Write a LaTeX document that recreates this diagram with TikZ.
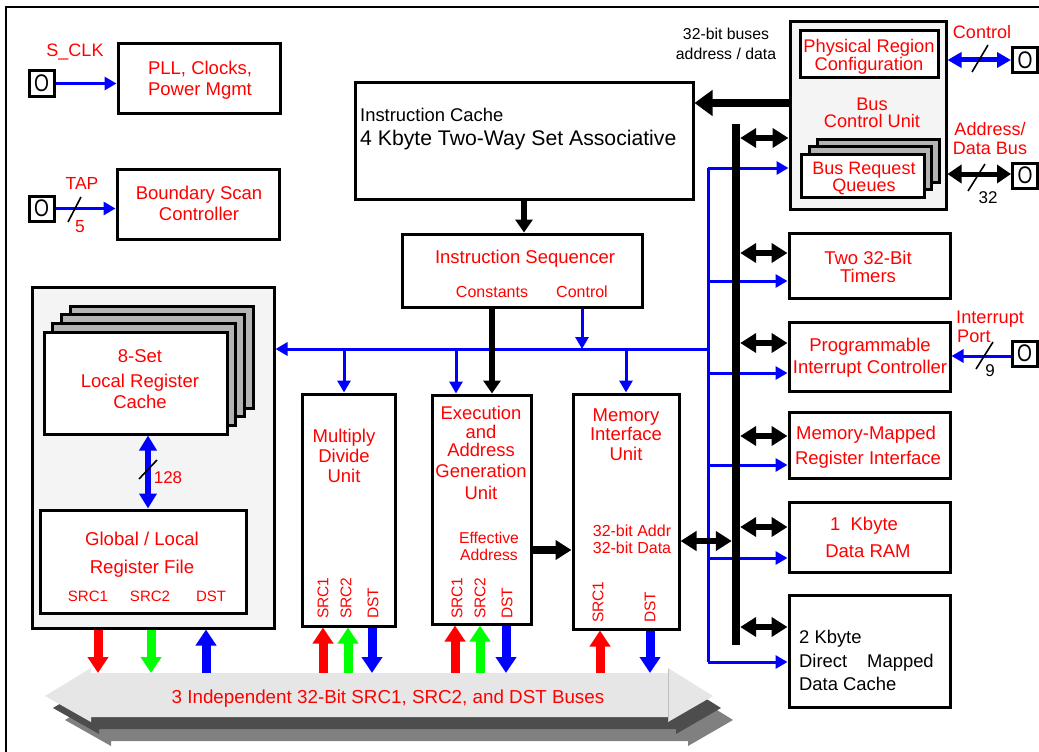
\documentclass[tikz,border=0pt]{standalone}
\usepackage{fontspec}
\usepackage{graphicx}
\setmainfont{Liberation Sans}
\usetikzlibrary{arrows.meta}
\definecolor{panel}{HTML}{F4F4F4}
\definecolor{stack}{HTML}{B3B3B3}
\definecolor{busl}{HTML}{E6E6E6}
\definecolor{busd}{HTML}{4D4D4D}
\definecolor{busm}{HTML}{808080}
\newcommand\fsz[1]{\fontsize{#1}{#1}\selectfont}
\newcommand\bx[6]{\node[#6, minimum width={(#4-#2)*1pt}, minimum height={(#5-#3)*1pt}] (#1) at ({(#2+#4)/2},{(#3+#5)/2}) {};}
\newcommand\tx[6]{\node[anchor=base,inner sep=0pt,text=#5,font=\fsz{#4}] (#1) at (#2,{#3+0.358*#4}) {#6};}
\newcommand\txl[6]{\node[anchor=base west,inner sep=0pt,text=#5,font=\fsz{#4}] (#1) at (#2,{#3+0.358*#4}) {#6};}
\newcommand\txr[6]{\node[rotate=90,anchor=west,inner sep=0pt,text=#5,font=\fsz{#4}] (#1) at (#2,#3) {#6};}
\newcommand\pin[3]{\node[draw,line width=3pt,fill=white,minimum width=25pt,minimum height=25pt,inner sep=0pt,font=\fsz{24}] (#1) at (#2,#3) {\scalebox{0.8}[1]{O}};}
\tikzset{
 box/.style={draw,line width=3pt,fill=white,inner sep=0pt},
 pbox/.style={box,fill=panel},
 sbox/.style={box,fill=stack},
 bln/.style={blue,line width=3pt},
 barr/.style={blue,line width=3pt,-{Triangle[length=12pt,width=13pt]}},
 bdbl/.style={blue,line width=5pt,{Triangle[length=14pt,width=15pt]}-{Triangle[length=14pt,width=15pt]}},
 bdblv/.style={blue,line width=6pt,{Triangle[length=15pt,width=17pt]}-{Triangle[length=15pt,width=17pt]}},
 kdbl/.style={black,line width=6pt,{Triangle[length=16pt,width=19pt]}-{Triangle[length=16pt,width=19pt]}},
 kdbls/.style={black,line width=5pt,{Triangle[length=14pt,width=18pt]}-{Triangle[length=14pt,width=18pt]}},
 karr/.style={black,line width=6.5pt,-{Triangle[length=13pt,width=17pt]}},
 karrw/.style={black,line width=8pt,-{Triangle[length=16pt,width=19pt]}},
 kbig/.style={black,line width=8pt,-{Triangle[length=18pt,width=25pt]}},
 fat/.style={line width=9pt,-{Triangle[length=16pt,width=20pt]}},
 slash/.style={black,line width=1.6pt},
}
\begin{document}
\begin{tikzpicture}[x=1pt,y=-1pt]
\useasboundingbox (0,0) rectangle (1039,752);
\fill[white] (0,0) rectangle (1039,752);
\draw[line width=2.5pt] (6,752) -- (6,7) -- (1039,7);

% bus arrow with shadows
\begin{scope}[shift={(20,24)}]
\fill[busm] (45,696) -- (91,668) -- (91,673) -- (668,673) -- (668,668) -- (713,696) -- (668,722) -- (668,717) -- (91,717) -- (91,722) -- cycle;
\end{scope}
\begin{scope}[shift={(8,12)}]
\fill[busd] (45,696) -- (91,668) -- (91,673) -- (668,673) -- (668,668) -- (713,696) -- (668,722) -- (668,717) -- (91,717) -- (91,722) -- cycle;
\end{scope}
\fill[busl] (45,696) -- (91,668) -- (91,673) -- (668,673) -- (668,668) -- (713,696) -- (668,722) -- (668,717) -- (91,717) -- (91,722) -- cycle;
\draw[black!25,line width=0.8pt] (668,669) -- (668,721);
\tx{tbus}{388}{697}{18.8}{red}{3 Independent 32-Bit SRC1, SRC2, and DST Buses}
\coordinate (bt) at (388,673);

% pins
\pin{pclk}{41.5}{83.5}
\pin{ptap}{41.5}{208.5}
\pin{pctl}{1025}{60.5}
\pin{pad}{1025}{175.5}
\pin{pirq}{1024.5}{353.5}

% boxes
\bx{pll}{118}{44}{280}{113}{box}
\bx{bsc}{117}{169}{279}{239}{box}
\bx{ic}{355}{83}{693}{199}{box}
\bx{is}{402}{234}{642}{307}{box}
\bx{reg}{32}{287}{274}{628}{pbox}
\bx{lrc3}{70}{306}{253}{408}{sbox}
\bx{lrc2}{61.3}{314.7}{244.3}{416.7}{sbox}
\bx{lrc1}{52.7}{323.3}{235.7}{425.3}{sbox}
\bx{lrc}{44}{332}{227}{434}{box}
\bx{glrf}{40}{510}{246}{613}{box}
\bx{mdu}{302}{394}{395}{626}{box}
\bx{eagu}{432}{395}{531}{624}{box}
\bx{miu}{573}{394}{679}{629}{box}
\bx{bcu}{790}{22}{946}{209}{pbox}
\bx{prc}{800}{31}{938}{78}{box}
\bx{brq3}{817}{139}{939}{182}{sbox}
\bx{brq2}{809}{146.5}{931}{189.5}{sbox}
\bx{brq}{801}{154}{924}{197}{box}
\bx{tim}{789}{233}{950}{298}{box}
\bx{pic}{789}{322}{950}{391}{box}
\bx{mmr}{789}{412}{950}{478}{box}
\bx{ram}{789}{502}{950}{572}{box}
\bx{dc}{789}{595}{950}{707}{box}

% blue control network
\coordinate (vtop) at (708,168);
\coordinate (vbot) at (708,662);
\coordinate (hj) at (708,349);
\coordinate (btim) at (708,281);
\coordinate (bpic) at (708,373);
\coordinate (bmmr) at (708,465);
\coordinate (bram) at (708,558);
\draw[bln] (vtop) -- (vbot);
\draw[barr] (vtop) -- (vtop -| bcu.west);
\draw[barr] (btim) -- (btim -| tim.west);
\draw[barr] (bpic) -- (bpic -| pic.west);
\draw[barr] (bmmr) -- (bmmr -| mmr.west);
\draw[barr] (bram) -- (bram -| ram.west);
\draw[barr] (vbot) -- (vbot -| dc.west);
\draw[barr] (hj) -- (hj -| reg.east);
\coordinate (hmdu) at (344,349);
\coordinate (heag) at (456,349);
\coordinate (hmiu) at (626,349);
\coordinate (isctl) at (582,320);
\draw[barr] (hmdu) -- (hmdu |- mdu.north);
\draw[barr] (heag) -- (heag |- eagu.north);
\draw[barr] (hmiu) -- (hmiu |- miu.north);
\draw[barr] (isctl |- is.south) -- (isctl |- hj);

% black internal bus
\node[fill=black, minimum width=8pt, minimum height=521pt, inner sep=0pt] (bus) at (736,384.5) {};

% black connectors
\coordinate (bcuic) at (790,103);
\draw[kbig] (bcuic -| bcu.west) -- (bcuic -| ic.east);
\draw[karr] (ic.south) -- (ic.south |- is.north);
\coordinate (iscon) at (492,350);
\draw[karr] (iscon |- is.south) -- (iscon |- eagu.north);
\coordinate (ea) at (550,550);
\draw[karrw] (ea -| eagu.east) -- (ea -| miu.west);
\coordinate (kb1) at (760,138);
\coordinate (kb2) at (760,253);
\coordinate (kb3) at (760,343);
\coordinate (kb4) at (760,436);
\coordinate (kb5) at (760,527);
\coordinate (kb6) at (760,627);
\draw[kdbl] (kb1 -| bus.east) -- (kb1 -| bcu.west);
\draw[kdbl] (kb2 -| bus.east) -- (kb2 -| tim.west);
\draw[kdbl] (kb3 -| bus.east) -- (kb3 -| pic.west);
\draw[kdbl] (kb4 -| bus.east) -- (kb4 -| mmr.west);
\draw[kdbl] (kb5 -| bus.east) -- (kb5 -| ram.west);
\draw[kdbl] (kb6 -| bus.east) -- (kb6 -| dc.west);
\coordinate (km) at (700,541);
\draw[kdbl] (km -| miu.east) -- (km -| bus.west);

% register file link
\coordinate (lg) at (148,470);
\draw[bdblv] (lg |- lrc.south) -- (lg |- glrf.north);
\draw[slash] (139,479) -- (157,460);
\tx{t128}{168}{477}{17}{red}{128}

% external pins
\draw[barr] (pclk.east) -- (pclk.east -| pll.west);
\draw[barr] (ptap.east) -- (ptap.east -| bsc.west);
\draw[slash] (68,222) -- (81,197);
\coordinate (cc) at (980,60);
\draw[bdbl] (cc -| bcu.east) -- (cc -| pctl.west);
\draw[slash] (972,72) -- (988,45);
\coordinate (ad) at (980,174);
\draw[kdbls] (ad -| bcu.east) -- (ad -| pad.west);
\draw[slash] (968,191) -- (985,164);
\coordinate (ir) at (980,356);
\draw[barr] (ir -| pirq.west) -- (ir -| pic.east);
\draw[slash] (976,369) -- (993,342);

% operand buses
\coordinate (a1) at (98,650);
\coordinate (a2) at (151,650);
\coordinate (a3) at (206,650);
\coordinate (a4) at (323,650);
\coordinate (a5) at (348,650);
\coordinate (a6) at (372,650);
\coordinate (a7) at (455,650);
\coordinate (a8) at (480,650);
\coordinate (a9) at (506,650);
\coordinate (a10) at (600,650);
\coordinate (a11) at (650,650);
\draw[fat,red] (a1 |- reg.south) -- (a1 |- bt);
\draw[fat,green] (a2 |- reg.south) -- (a2 |- bt);
\draw[fat,blue] (a3 |- bt) -- (a3 |- reg.south);
\draw[fat,red] (a4 |- bt) -- (a4 |- mdu.south);
\draw[fat,green] (a5 |- bt) -- (a5 |- mdu.south);
\draw[fat,blue] (a6 |- mdu.south) -- (a6 |- bt);
\draw[fat,red] (a7 |- bt) -- (a7 |- eagu.south);
\draw[fat,green] (a8 |- bt) -- (a8 |- eagu.south);
\draw[fat,blue] (a9 |- eagu.south) -- (a9 |- bt);
\draw[fat,red] (a10 |- bt) -- (a10 |- miu.south);
\draw[fat,blue] (a11 |- miu.south) -- (a11 |- bt);

% texts
\tx{tclk}{75}{50}{18}{red}{S\_CLK}
\tx{tpll}{200}{68}{18.5}{red}{PLL, Clocks,}
\tx{tpll2}{200}{89}{18.5}{red}{Power Mgmt}
\tx{ttap}{82}{183}{17.5}{red}{TAP}
\tx{t5}{80}{226}{17.5}{red}{5}
\tx{tbsc}{199}{193}{18.5}{red}{Boundary Scan}
\tx{tbsc2}{199}{214}{18.5}{red}{Controller}
\tx{tbb}{726}{34}{15.8}{black}{32-bit buses}
\tx{tbb2}{726}{54}{15.8}{black}{address / data}
\txl{tic}{360}{115}{18.4}{black}{Instruction Cache}
\txl{tic2}{360}{138}{21.2}{black}{4 Kbyte Two-Way Set Associative}
\tx{tprc}{869}{46}{18.3}{red}{Physical Region}
\tx{tprc2}{869}{64}{18.3}{red}{Configuration}
\tx{tbcu}{872}{104}{18.2}{red}{Bus}
\tx{tbcu2}{872}{121}{18.2}{red}{Control Unit}
\tx{tbrq}{864}{168}{18}{red}{Bus Request}
\tx{tbrq2}{864}{185}{18}{red}{Queues}
\tx{tctl}{982}{32}{18}{red}{Control}
\tx{tad}{990}{129}{18}{red}{Address/}
\tx{tad2}{990}{148}{18}{red}{Data Bus}
\tx{t32}{988}{197}{17}{black}{32}
\tx{tis}{525}{257}{18.5}{red}{Instruction Sequencer}
\tx{tcon}{492}{292}{16}{red}{Constants}
\tx{tcontrol}{582}{292}{16}{red}{Control}
\tx{ttim}{868}{258}{18.5}{red}{Two 32-Bit}
\tx{ttim2}{868}{276}{18.5}{red}{Timers}
\tx{tpic}{870}{345}{18.5}{red}{Programmable}
\tx{tpic2}{870}{367}{18.5}{red}{Interrupt Controller}
\txl{tirq}{956}{317}{18.2}{red}{Interrupt}
\txl{tport}{957}{336}{18.2}{red}{Port}
\tx{t9}{990}{370}{17}{black}{9}
\tx{tmmr}{866}{433}{18.5}{red}{Memory-Mapped}
\tx{tmmr2}{868}{458}{18.5}{red}{Register Interface}
\tx{tram}{864}{524}{18.5}{red}{1\ \ Kbyte}
\tx{tram2}{868}{551}{18.5}{red}{Data RAM}
\txl{tdc}{799}{637}{18.4}{black}{2 Kbyte}
\txl{tdc2}{799}{661}{18.4}{black}{Direct\hspace{20pt}Mapped}
\txl{tdc3}{799}{684}{18.4}{black}{Data Cache}
\tx{tlrc}{140}{356}{18.5}{red}{8-Set}
\tx{tlrc2}{140}{381}{18.5}{red}{Local Register}
\tx{tlrc3}{140}{402}{18.5}{red}{Cache}
\tx{tgl}{142}{539}{18.6}{red}{Global / Local}
\tx{tgl2}{142}{567}{18.6}{red}{Register File}
\tx{tgs1}{88}{596}{15}{red}{SRC1}
\tx{tgs2}{150}{596}{15}{red}{SRC2}
\tx{tgd}{211}{596}{15}{red}{DST}
\tx{tmd}{344}{436}{18.5}{red}{Multiply}
\tx{tmd2}{344}{456}{18.5}{red}{Divide}
\tx{tmd3}{344}{476}{18.5}{red}{Unit}
\tx{te1}{481}{413}{18.4}{red}{Execution}
\tx{te2}{481}{432}{18.4}{red}{and}
\tx{te3}{481}{450}{18.4}{red}{Address}
\tx{te4}{481}{471}{18.4}{red}{Generation}
\tx{te5}{481}{493}{18.4}{red}{Unit}
\tx{tef}{489}{538}{15.7}{red}{Effective}
\tx{tef2}{489}{555}{15.7}{red}{Address}
\tx{tm1}{626}{415}{18.5}{red}{Memory}
\tx{tm2}{626}{434}{18.5}{red}{Interface}
\tx{tm3}{626}{454}{18.5}{red}{Unit}
\tx{tm4}{632}{531}{16}{red}{32-bit Addr}
\tx{tm5}{632}{548}{16}{red}{32-bit Data}
\txr{rm1}{323}{619}{15.5}{red}{SRC1}
\txr{rm2}{346}{619}{15.5}{red}{SRC2}
\txr{rm3}{373}{619}{15.5}{red}{DST}
\txr{re1}{457}{619}{15.5}{red}{SRC1}
\txr{re2}{480}{619}{15.5}{red}{SRC2}
\txr{re3}{507}{619}{15.5}{red}{DST}
\txr{ru1}{598}{623}{15.5}{red}{SRC1}
\txr{ru2}{650}{623}{15.5}{red}{DST}
\end{tikzpicture}
\end{document}
